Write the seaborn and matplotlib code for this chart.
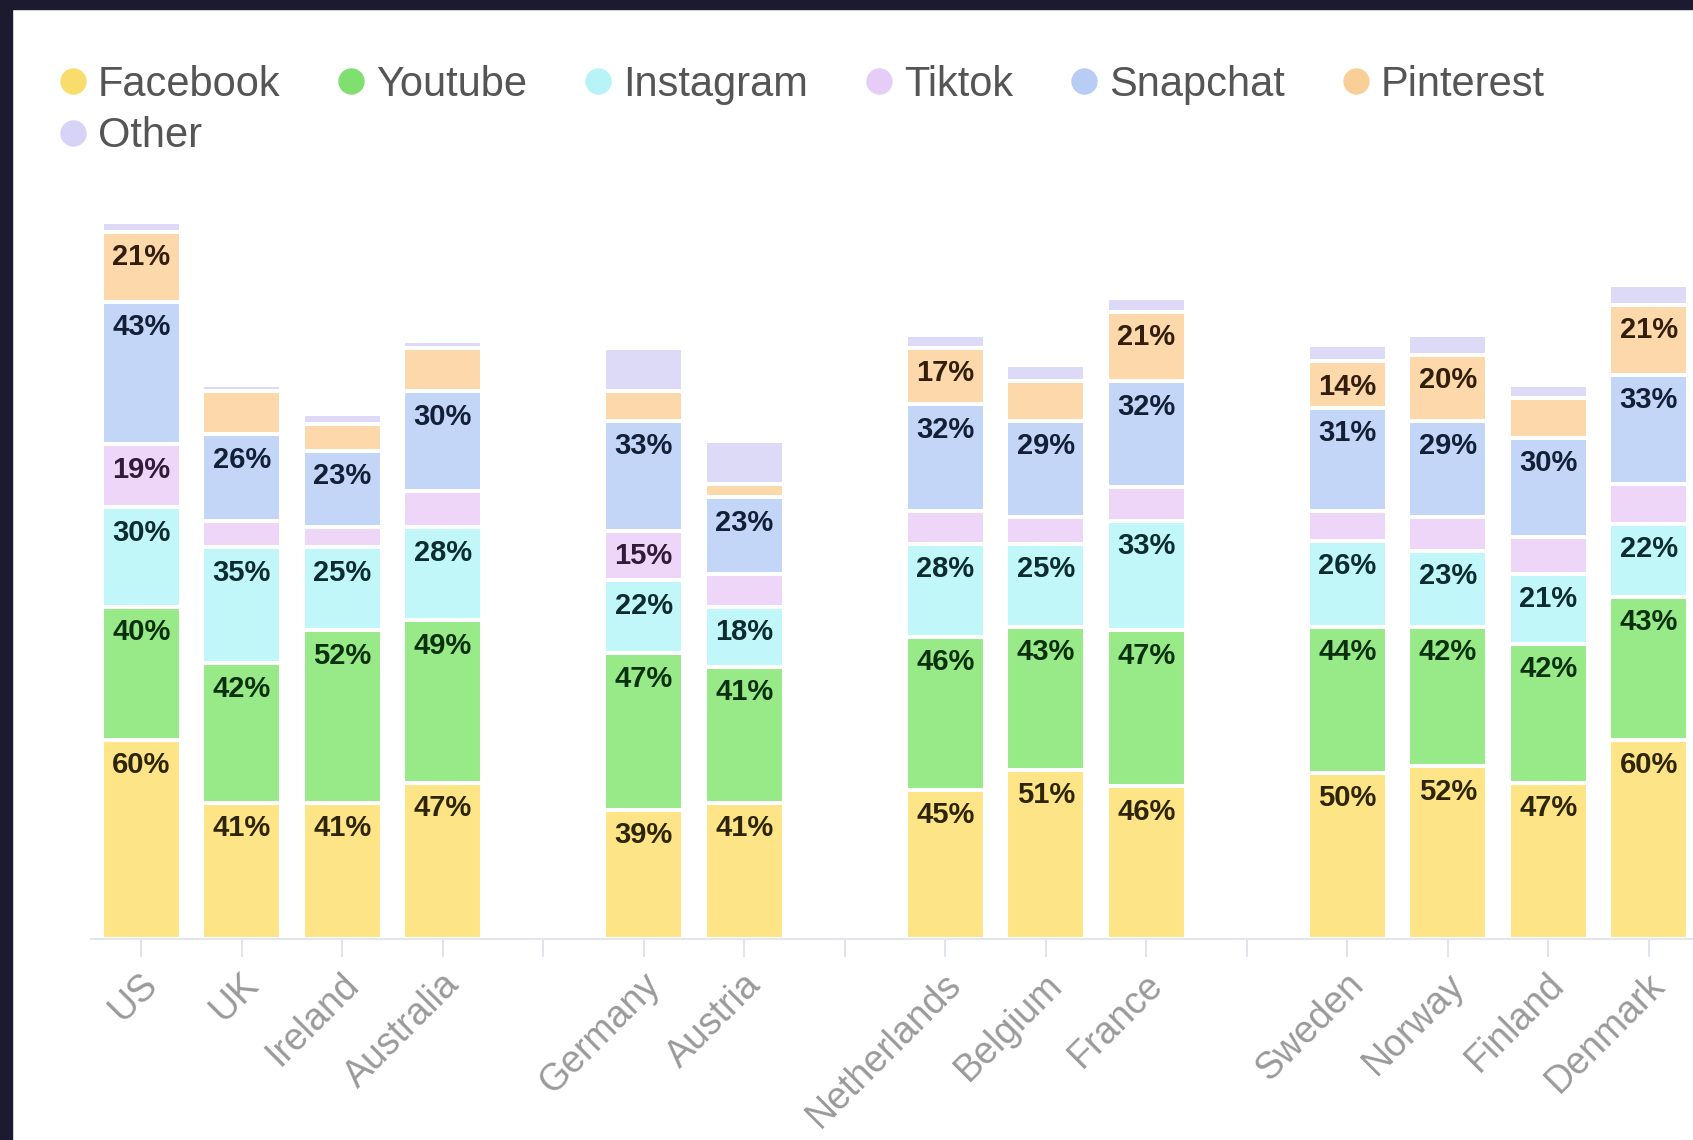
import matplotlib
matplotlib.use("Agg")
import matplotlib.pyplot as plt
import matplotlib.transforms as mtransforms
from matplotlib.lines import Line2D
from matplotlib.patches import Rectangle
import seaborn as sns
import pandas as pd

# ---------------- data ----------------
countries = ["US", "UK", "Ireland", "Australia", "Germany", "Austria",
             "Netherlands", "Belgium", "France", "Sweden", "Norway",
             "Finland", "Denmark"]
# category slots on the axis (blank slots separate the country groups)
order = ["US", "UK", "Ireland", "Australia", " ", "Germany", "Austria", "  ",
         "Netherlands", "Belgium", "France", "   ", "Sweden", "Norway",
         "Finland", "Denmark"]
platforms = ["Facebook", "Youtube", "Instagram", "Tiktok", "Snapchat",
             "Pinterest", "Other"]

facebook = [60, 41, 41, 47, 39, 41, 45, 51, 46, 50, 52, 47, 60]
youtube = [40, 42, 52, 49, 47, 41, 46, 43, 47, 44, 42, 42, 43]
instagram = [30, 35, 25, 28, 22, 18, 28, 25, 33, 26, 23, 21, 22]
tiktok = [19, 8, 6, 11, 15, 10, 10, 8, 10, 9, 10, 11, 12]
snapchat = [43, 26, 23, 30, 33, 23, 32, 29, 32, 31, 29, 30, 33]
pinterest = [21, 13, 8, 13, 9, 4, 17, 12, 21, 14, 20, 12, 21]
other = [3, 2, 3, 2, 13, 13, 4, 5, 4, 5, 6, 4, 6]

label_threshold = 14

bar_colors = {"Facebook": "#FDE587", "Youtube": "#98EA89", "Instagram": "#C2F7F9",
              "Tiktok": "#EDD6F8", "Snapchat": "#C3D6F7", "Pinterest": "#FCD8AA",
              "Other": "#DDDAF8"}
dot_colors = {"Facebook": "#F9DD6C", "Youtube": "#7FE070", "Instagram": "#B8F3F8",
              "Tiktok": "#E6CDF7", "Snapchat": "#B7CDF6", "Pinterest": "#F9CF98",
              "Other": "#D6D3F7"}
label_colors = {"Facebook": "#2E2506", "Youtube": "#0B300E", "Instagram": "#0C2C30",
                "Tiktok": "#321B38", "Snapchat": "#131F36", "Pinterest": "#321E0C",
                "Other": "#221F36"}

# ---------------- style ----------------
sns.set_style("white")
plt.rcParams["font.family"] = ["Liberation Sans", "DejaVu Sans"]

W, H = 1693, 1140
fig = plt.figure(figsize=(W / 100, H / 100), dpi=100)
fig.patch.set_facecolor("white")

px_per_pct = 3.32
ymax = 230
ax = fig.add_axes([91 / W, 1 - 939 / H, 1608 / W, ymax * px_per_pct / H])

series = dict(zip(platforms, [facebook, youtube, instagram, tiktok,
                              snapchat, pinterest, other]))
df = pd.DataFrame({"country": countries, **series})
cum = df[platforms].cumsum(axis=1)

containers = {}
for p in reversed(platforms):
    sns.barplot(x=df["country"], y=cum[p], order=order, color=bar_colors[p],
                saturation=1, width=0.79, errorbar=None, edgecolor="white",
                linewidth=2.9, ax=ax)
    containers[p] = ax.containers[-1]

# value labels at the top of each segment
for p in platforms:
    for patch in containers[p]:
        xc = patch.get_x() + patch.get_width() / 2
        name = order[int(round(xc))]
        v = series[p][countries.index(name)]
        if v >= label_threshold:
            ax.annotate(f"{v}%", (xc, patch.get_height()), xytext=(0, -24),
                        textcoords="offset points", ha="center", va="baseline",
                        fontsize=21, fontweight="bold", color=label_colors[p],
                        zorder=5)

ax.set_xlim(-0.5, len(order) - 0.5)
ax.set_ylim(0, ymax)
ax.set_xlabel("")
ax.set_ylabel("")
ax.set_yticks([])
sns.despine(ax=ax, left=True)
ax.spines["bottom"].set_color("#E3E6ED")
ax.spines["bottom"].set_linewidth(1.5)
ax.tick_params(axis="x", bottom=True, length=13, width=1.3, color="#DDE2EA",
               pad=16, labelsize=27, labelcolor="#9A9A9A")
shift = mtransforms.ScaledTranslation(0.11, 0, fig.dpi_scale_trans)
for lab in ax.get_xticklabels():
    lab.set_rotation(45)
    lab.set_ha("right")
    lab.set_va("center")
    lab.set_rotation_mode("anchor")
    lab.set_transform(lab.get_transform() + shift)

# legend
handles = {p: Line2D([], [], marker="o", linestyle="none", markersize=19,
                     markerfacecolor=dot_colors[p], markeredgewidth=0)
           for p in platforms}
leg_order = ["Facebook", "Other", "Youtube", "Instagram", "Tiktok",
             "Snapchat", "Pinterest"]
fig.legend([handles[p] for p in leg_order], leg_order, loc="upper left",
           bbox_to_anchor=(60.5 / W, 1 - 65 / H), ncol=6, frameon=False,
           fontsize=30, handlelength=0.6, handletextpad=0.3,
           columnspacing=1.4, labelspacing=0.27, borderpad=0,
           borderaxespad=0, labelcolor="#555555")

# dark screenshot frame (top and left)
frame = "#1B1A2E"
fig.add_artist(Rectangle((0, 1 - 9 / H), 1, 9 / H, transform=fig.transFigure,
                         color=frame, zorder=20))
fig.add_artist(Rectangle((0, 0), 12 / W, 1, transform=fig.transFigure,
                         color=frame, zorder=20))

fig.savefig("out.png", dpi=100, facecolor="white")
